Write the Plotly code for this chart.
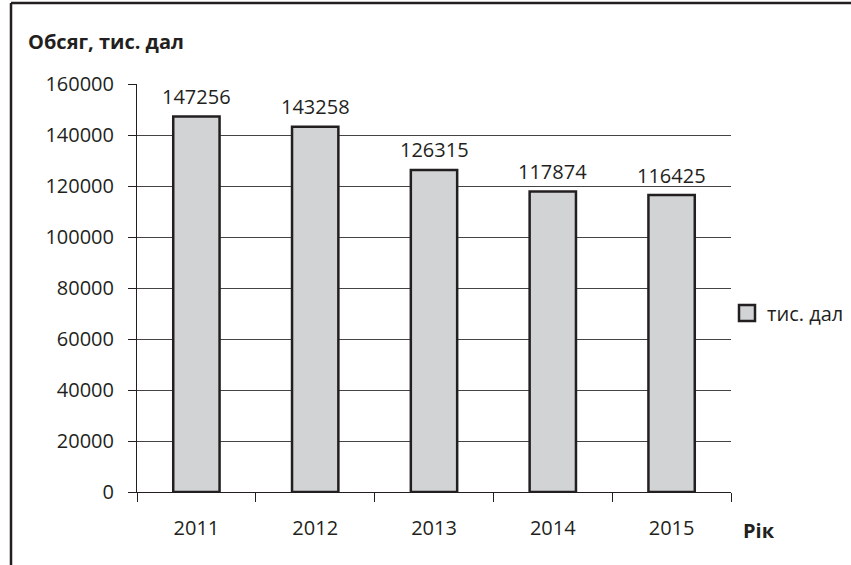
import plotly.graph_objects as go

years = ["2011", "2012", "2013", "2014", "2015"]
values = [147256, 143258, 126315, 117874, 116425]
series_name = "тис. дал"
y_ticks = [0, 20000, 40000, 60000, 80000, 100000, 120000, 140000, 160000]

W, H = 851, 565
L, R, T, B = 137, 120, 84, 73
pw = W - L - R
ph = H - T - B

font = "Open Sans"
fs = 20
dark = "#231f20"
fill = "#d1d3d4"

fig = go.Figure()
fig.add_trace(go.Bar(
    x=years, y=values, name=series_name,
    marker=dict(color=fill, line=dict(color=dark, width=2.5)),
    cliponaxis=False, showlegend=False,
))

def px_x(px):
    return (px - L) / pw

def px_y(py):
    return (H - B - py) / ph

# category axes place annotations by category index
value_labels = [
    dict(text=str(v), x=i, y=v, xref="x", yref="y", xanchor="center",
         yanchor="middle", yshift=20, showarrow=False,
         font=dict(family=font, size=fs, color=dark))
    for i, v in enumerate(values)
]

fig.update_layout(
    width=W, height=H,
    margin=dict(l=L, r=R, t=T, b=B),
    paper_bgcolor="white", plot_bgcolor="white",
    bargap=0.61,
    showlegend=False,
    font=dict(family=font, size=fs, color=dark),
    xaxis=dict(
        type="category", tickson="boundaries", ticks="outside", ticklen=9,
        tickcolor=dark, tickwidth=1, showline=True, linecolor=dark, linewidth=1,
        showgrid=False, tickfont=dict(family=font, size=fs, color=dark),
        range=[-0.5, 4.5], ticklabelstandoff=18,
    ),
    yaxis=dict(
        range=[0, 160000], tickvals=y_ticks, ticktext=[str(v) for v in y_ticks],
        ticks="outside", ticklen=8, tickcolor=dark, tickwidth=1,
        showline=True, linecolor=dark, linewidth=1,
        showgrid=True, gridcolor="#444444", gridwidth=1, zeroline=False,
        tickfont=dict(family=font, size=fs, color=dark), ticklabelstandoff=10,
    ),
    annotations=value_labels + [
        dict(text="<b>Обсяг, тис. дал</b>", xref="paper", yref="paper",
             x=px_x(26), y=px_y(42), xanchor="left", yanchor="middle",
             showarrow=False, font=dict(family=font, size=fs, color=dark)),
        dict(text="<b>Рік</b>", xref="paper", yref="paper",
             x=px_x(741), y=px_y(530), xanchor="left", yanchor="middle",
             showarrow=False, font=dict(family=font, size=fs, color=dark)),
        dict(text=series_name, xref="paper", yref="paper",
             x=px_x(765), y=px_y(313), xanchor="left", yanchor="middle",
             showarrow=False, font=dict(family=font, size=fs, color=dark)),
    ],
    shapes=[
        dict(type="rect", xref="paper", yref="paper",
             x0=px_x(739), x1=px_x(755), y0=px_y(305), y1=px_y(321),
             fillcolor=fill, line=dict(color=dark, width=2.5)),
        dict(type="line", xref="paper", yref="paper",
             x0=px_x(11), x1=px_x(11), y0=px_y(3), y1=px_y(570),
             line=dict(color=dark, width=2.5)),
        dict(type="line", xref="paper", yref="paper",
             x0=px_x(11), x1=px_x(860), y0=px_y(3), y1=px_y(3),
             line=dict(color=dark, width=2.5)),
    ],
)

fig.write_html("out.html")
